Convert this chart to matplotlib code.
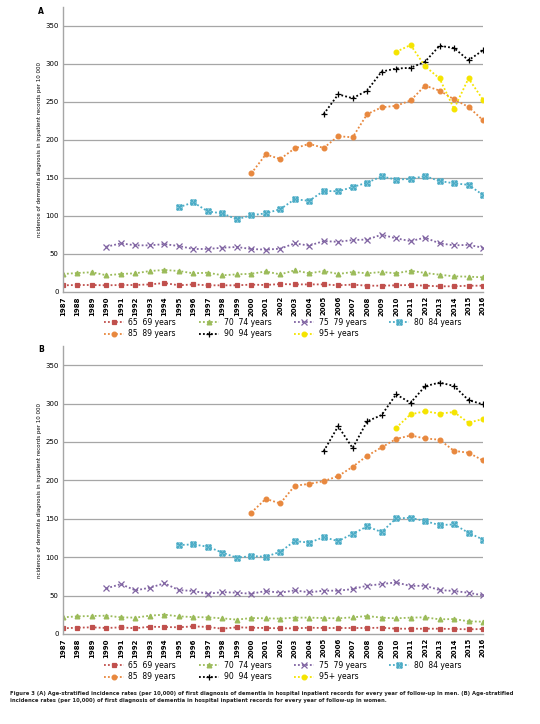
import numpy as np
import matplotlib
matplotlib.use("Agg")
import matplotlib.pyplot as plt
from matplotlib.path import Path

plt.rcParams['font.family'] = ['DejaVu Sans']

years = list(range(1987, 2017))
nan = np.nan

labels = ["65  69 years", "70  74 years", "75  79 years", "80  84 years",
          "85  89 years", "90  94 years", "95+ years"]

# Panel A (men)
men_65 = [8.8, 9.2, 9.2, 8.8, 9.2, 9.2, 10.0, 11.8, 8.8, 10.0, 8.8, 8.8, 8.8, 9.7, 9.2,
          10.5, 10.0, 10.0, 10.0, 8.8, 9.7, 8.3, 8.3, 8.8, 9.2, 8.3, 7.5, 7.5, 8.3, 8.3]
men_70 = [23.7, 25.0, 26.0, 22.0, 23.7, 24.6, 27.6, 29.0, 27.6, 24.6, 25.4, 22.0, 23.2, 24.0, 27.0,
          23.2, 28.5, 24.6, 27.6, 23.7, 26.3, 24.6, 26.3, 24.6, 28.0, 25.0, 22.8, 20.6, 20.2, 19.3]
men_75 = [nan, nan, nan, 59.6, 64.0, 61.4, 61.4, 63.0, 60.5, 56.6, 56.6, 58.3, 59.2, 56.6, 55.7,
          57.0, 64.0, 61.0, 67.0, 66.0, 68.4, 69.0, 75.4, 70.6, 67.0, 71.5, 64.0, 61.4, 62.0, 58.3]
men_80 = [nan] * 8 + [111.5, 118, 106, 103.5, 95.6, 101, 103.5,
                      109, 122, 120, 133, 132.5, 138, 144, 152, 148, 148.7, 152.6, 146, 143, 141, 127.6]
men_85 = [nan] * 13 + [156, 181, 175, 189, 195, 189.5, 205, 203.5, 234, 243, 245, 252,
                       271.5, 265, 253.5, 243.5, 226]
men_90 = [nan] * 18 + [234, 260, 255, 265, 290, 294, 295, 303, 324, 321, 305, 318]
men_95 = [nan] * 23 + [316, 325, 297, 281, 241, 281, 253]

# Panel B (women)
wom_65 = [7.4, 8.2, 8.7, 7.8, 8.7, 7.4, 9.5, 9.1, 8.7, 10.0, 9.1, 6.9, 8.7, 8.2, 7.8,
          7.4, 7.4, 8.2, 7.8, 7.8, 7.8, 7.8, 8.2, 6.9, 6.9, 6.9, 6.9, 6.5, 6.1, 6.5]
wom_70 = [21.7, 23.0, 23.4, 23.9, 21.7, 21.3, 23.9, 25.2, 23.0, 22.0, 21.7, 20.4, 18.7, 20.8, 20.4,
          20.0, 21.3, 21.3, 20.8, 20.4, 21.7, 23.4, 21.3, 20.4, 21.3, 21.7, 19.1, 19.5, 16.5, 16.0]
wom_75 = [nan, nan, nan, 59.4, 65.0, 56.8, 60.3, 66.0, 57.2, 56.0, 52.4, 54.6, 53.7, 52.4, 56.0,
          53.7, 56.8, 54.2, 56.4, 56.4, 58.5, 62.9, 65.0, 67.2, 62.5, 62.9, 57.2, 56.0, 53.7, 50.3]
wom_80 = [nan] * 8 + [115.8, 116.7, 113.6, 106, 99.3, 101.5, 100.6,
                      107, 121, 119, 126, 121, 130.5, 140, 132.7, 150.5, 151.3, 147, 141.8, 142.7, 131.8, 123]
wom_85 = [nan] * 13 + [158, 176, 170, 193, 195.5, 199, 205.6, 217.7, 232, 243, 254, 258.5,
                       254.6, 253, 238.5, 236, 226]
wom_90 = [nan] * 18 + [238, 270.6, 242, 277, 285, 312, 301, 322.6, 327.4, 323, 304.5, 299]
wom_95 = [nan] * 23 + [268.5, 286, 290, 287, 289, 275, 280]

yticks = [0, 50, 100, 150, 200, 250, 300, 350]
ylabel = "ncidence of dementia diagnosis in inpatient records per 10 000"
caption = ("Figure 3 (A) Age-stratified incidence rates (per 10,000) of first diagnosis of dementia in hospital "
           "inpatient records for every year of follow-up in men. (B) Age-stratified\n"
           "incidence rates (per 10,000) of first diagnosis of dementia in hospital inpatient records for "
           "every year of follow-up in women.")

colors = ["#C0504D", "#9BBB59", "#8064A2", "#4BACC6", "#E8883E", "#000000", "#F5E400"]
boxx = Path([(-1, -1), (1, -1), (1, 1), (-1, 1), (-1, -1), (-1, -1), (1, 1), (-1, 1), (1, -1)],
            [Path.MOVETO, Path.LINETO, Path.LINETO, Path.LINETO, Path.CLOSEPOLY,
             Path.MOVETO, Path.LINETO, Path.MOVETO, Path.LINETO])
markers = ["s", "^", "x", boxx, "o", "+", "o"]
msizes = [3.4, 3.4, 3.8, 3.6, 3.4, 4.8, 3.4]

W, H = 540, 724
fig = plt.figure(figsize=(W / 100, H / 100), dpi=100)


def panel(bottom_px, top_px, series, letter):
    ax = fig.add_axes([63 / W, 1 - bottom_px / H, 420 / W, (bottom_px - top_px) / H])
    handles = []
    for s, c, m, ms in zip(series, colors, markers, msizes):
        fill = 'none' if m is boxx else 'full'
        h, = ax.plot(years, s, linestyle=(0, (1, 1.2)), linewidth=1.3, color=c,
                     marker=m, markersize=ms, markeredgewidth=0.9, fillstyle=fill)
        handles.append(h)
    ax.set_xlim(1987, 2016)
    ax.set_ylim(0, 375)
    ax.set_yticks(yticks)
    ax.set_xticks(years)
    ax.set_xticklabels([str(y) for y in years], rotation=90, fontsize=5, fontweight='bold')
    ax.set_yticklabels([str(v) for v in yticks], fontsize=5)
    ax.tick_params(length=0, pad=3)
    for g in yticks[1:]:
        ax.axhline(g, color="#A6A6A6", linewidth=0.9, zorder=0)
    for sp in ["top", "right"]:
        ax.spines[sp].set_visible(False)
    for sp in ["left", "bottom"]:
        ax.spines[sp].set_color("#A6A6A6")
        ax.spines[sp].set_linewidth(1.0)
    ax.set_ylabel(ylabel, fontsize=4, labelpad=6)
    ax.yaxis.set_label_coords(-0.05, 0.5)
    fig.text(38 / W, 1 - (top_px + 4) / H, letter, fontsize=5.5, fontweight='bold', va='center')
    return ax, handles


axA, hA = panel(292, 7, [men_65, men_70, men_75, men_80, men_85, men_90, men_95], "A")
axB, hB = panel(634, 346, [wom_65, wom_70, wom_75, wom_80, wom_85, wom_90, wom_95], "B")

order = [0, 4, 1, 5, 2, 6, 3]
for handles, ytop in [(hA, 318), (hB, 661)]:
    fig.legend([handles[i] for i in order], [labels[i] for i in order],
               loc='upper left', bbox_to_anchor=(104 / W, 1 - ytop / H), ncol=4,
               frameon=False, fontsize=5.5, handlelength=2.6, handletextpad=0.6,
               columnspacing=3.0, labelspacing=0.3, borderaxespad=0, borderpad=0)

fig.text(10 / W, 1 - 691 / H, caption, fontsize=3.75, fontweight='bold', va='top',
         linespacing=1.6, color="#222222")

fig.savefig("out.png", dpi=100)
